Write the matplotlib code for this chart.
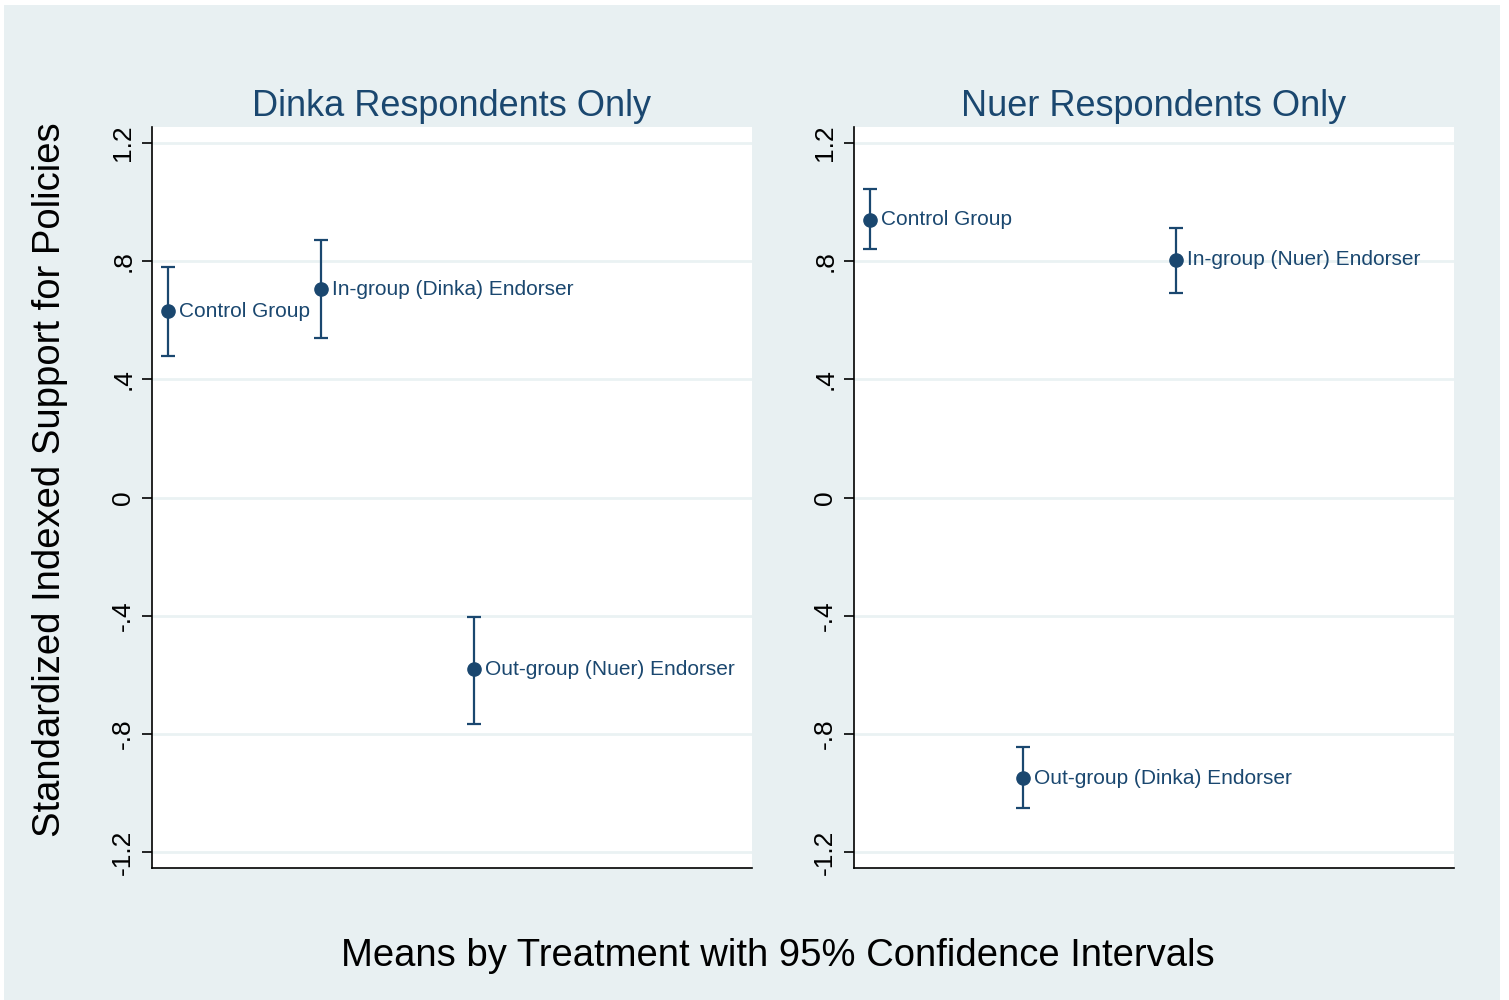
import matplotlib
matplotlib.use("Agg")
import matplotlib.pyplot as plt
from matplotlib.patches import Rectangle

plt.rcParams['font.family'] = ['Liberation Sans', 'DejaVu Sans']

# ---- data ----
panel_titles = ["Dinka Respondents Only", "Nuer Respondents Only"]

dinka_labels = ["Control Group", "In-group (Dinka) Endorser", "Out-group (Nuer) Endorser"]
dinka_pos = [1, 2, 3]
dinka_mean = [0.63, 0.705, -0.582]
dinka_lo = [0.48, 0.54, -0.765]
dinka_hi = [0.78, 0.87, -0.403]

nuer_labels = ["Control Group", "Out-group (Dinka) Endorser", "In-group (Nuer) Endorser"]
nuer_pos = [1, 2, 3]
nuer_mean = [0.94, -0.95, 0.805]
nuer_lo = [0.84, -1.052, 0.693]
nuer_hi = [1.045, -0.845, 0.913]

yticks = [-1.2, -0.8, -0.4, 0, 0.4, 0.8, 1.2]
ytick_labels = ["-1.2", "-.8", "-.4", "0", ".4", ".8", "1.2"]

ylabel = "Standardized Indexed Support for Policies"
caption = "Means by Treatment with 95% Confidence Intervals"

navy = "#1A476F"
bg = "#E8F0F2"
grid = "#EAF2F3"

W, H = 1509, 1000
fig = plt.figure(figsize=(W / 100, H / 100), dpi=100, facecolor="white")
fig.patches.append(Rectangle((4 / W, 0), (1500 - 4) / W, (H - 5) / H,
                             transform=fig.transFigure, facecolor=bg,
                             edgecolor="none", zorder=-10))

panels = [
    (152, dinka_pos, dinka_mean, dinka_lo, dinka_hi, dinka_labels, panel_titles[0]),
    (854, nuer_pos, nuer_mean, nuer_lo, nuer_hi, nuer_labels, panel_titles[1]),
]

for left_px, pos, mean, lo, hi, labels, title in panels:
    ax = fig.add_axes([left_px / W, (H - 868) / H, 600 / W, (868 - 127) / H])
    ax.set_facecolor("white")
    ax.set_xlim(0.895, 4.82)
    ax.set_ylim(-1.254, 1.254)
    for s in ["top", "right"]:
        ax.spines[s].set_visible(False)
    for s in ["left", "bottom"]:
        ax.spines[s].set_color("black")
        ax.spines[s].set_linewidth(1.2)
    ax.set_xticks([])
    ax.set_yticks(yticks)
    ax.set_yticklabels(ytick_labels, rotation=90, va="center", fontsize=19)
    ax.tick_params(axis="y", length=7, width=1.2, pad=5, colors="black")
    ax.grid(axis="y", color=grid, linewidth=2)
    ax.set_axisbelow(True)

    yerr = [[m - l for m, l in zip(mean, lo)], [h - m for m, h in zip(mean, hi)]]
    ax.errorbar(pos, mean, yerr=yerr, fmt="o", color=navy, ecolor=navy,
                markersize=9.5, elinewidth=1.6, capsize=4.8, capthick=1.6,
                clip_on=False, zorder=3)
    for x, y, lab in zip(pos, mean, labels):
        ax.annotate(lab, (x, y), xytext=(8, 0), textcoords="offset points",
                    va="center", ha="left", fontsize=15, color=navy)
    ax.set_title(title, color=navy, fontsize=26, pad=8)

fig.text(50 / W, 1 - 480 / H, ylabel, rotation=90, ha="center", va="center",
         fontsize=27.5, color="black")
fig.text(778 / W, 1 - 956 / H, caption, ha="center", va="center",
         fontsize=27.5, color="black")

fig.savefig("out.png", dpi=100, facecolor=fig.get_facecolor())
